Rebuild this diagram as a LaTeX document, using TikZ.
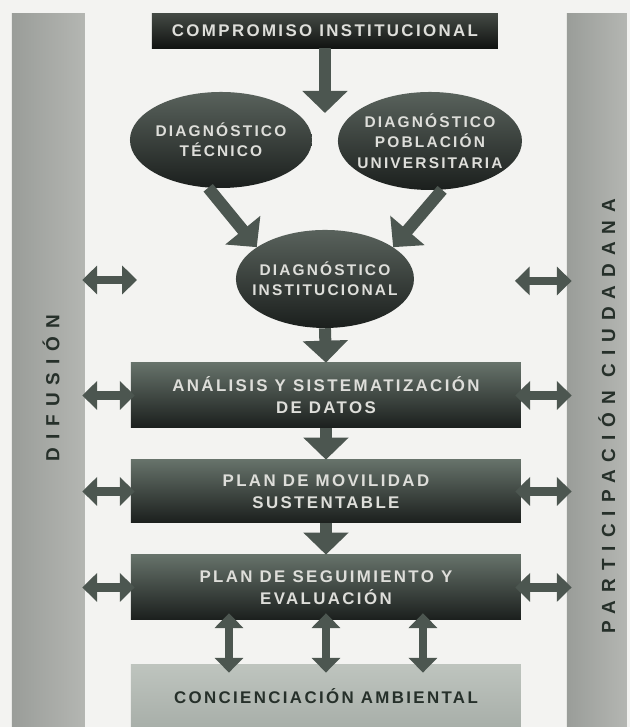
\documentclass[tikz,border=0pt]{standalone}
\usepackage{fontspec}
\usepackage{tikz}
\newfontfamily\boxfont[LetterSpace=14]{Liberation Sans}
\newfontfamily\barfont[LetterSpace=42]{Liberation Sans}
\usetikzlibrary{shapes.geometric, arrows.meta, calc}

\definecolor{paper}{HTML}{F3F3F1}
\definecolor{bargray}{HTML}{B4B6B2}
\definecolor{bardark}{HTML}{9A9D99}
\definecolor{boxtop}{HTML}{66726A}
\definecolor{boxbot}{HTML}{1B1F1D}
\definecolor{headtop}{HTML}{434944}
\definecolor{headbot}{HTML}{111311}
\definecolor{ovaltop}{HTML}{59625C}
\definecolor{arrowgray}{HTML}{4C5650}
\definecolor{lighttext}{HTML}{DEDEDA}
\definecolor{darktext}{HTML}{26302A}
\definecolor{conctop}{HTML}{BEC4BE}
\definecolor{concbot}{HTML}{A8AFA9}

\begin{document}
\begin{tikzpicture}[x=0.025cm, y=-0.025cm,
    darkbox/.style={rectangle, top color=boxtop, bottom color=boxbot, text=lighttext,
      font=\boxfont\bfseries\fontsize{12}{15.5}\selectfont, align=center, inner sep=0pt,
      minimum width=9.75cm},
    darkoval/.style={ellipse, top color=ovaltop, bottom color=boxbot, text=lighttext,
      font=\boxfont\bfseries\fontsize{11}{14.5}\selectfont, align=center,
      inner xsep=-3mm, inner ysep=-1mm},
    sidebar/.style={rectangle, left color=bardark, right color=bargray, inner sep=0pt},
    bartext/.style={rotate=90, text=darktext, font=\barfont\bfseries\fontsize{13.5}{13.5}\selectfont},
    bigarrow/.style={draw=arrowgray, line width=0.3cm, -{Triangle[width=1.1cm, length=0.55cm]}},
    dblarrow/.style={draw=arrowgray, line width=0.22cm,
      {Triangle[width=0.7cm, length=0.37cm]}-{Triangle[width=0.7cm, length=0.37cm]}},
  ]
    % Paper
    \fill[paper] (0,0) rectangle (630,727);

    % Side bars
    \node[sidebar, minimum width=1.825cm, minimum height=17.825cm] (difusion) at (48.5,370.5) {};
    \node[sidebar, minimum width=1.5cm, minimum height=17.825cm] (participacion) at (597,370.5) {};
    \node[bartext] (difusionlabel) at (51,388) {DIFUSIÓN};
    \node[bartext] (participacionlabel) at (607,416) {PARTICIPACIÓN CIUDADANA};

    % Top box
    \node[darkbox, top color=headtop, bottom color=headbot, minimum width=8.65cm, minimum height=0.85cm]
      (compromiso) at (325,31) {COMPROMISO INSTITUCIONAL};
    \coordinate (split) at (325,113);

    % Diagnostics
    \node[darkoval, minimum width=4.55cm, minimum height=2.4cm] (tecnico) at (221,140)
      {DIAGNÓSTICO\\TÉCNICO};
    \node[darkoval, minimum width=4.6cm, minimum height=2.45cm] (poblacion) at (430,141)
      {DIAGNÓSTICO\\POBLACIÓN\\UNIVERSITARIA};
    \node[darkoval, minimum width=4.45cm, minimum height=2.45cm] (institucional) at (325,279)
      {DIAGNÓSTICO\\INSTITUCIONAL};

    % Plans
    \node[darkbox, minimum height=1.625cm] (analisis) at (326,395.5)
      {ANÁLISIS Y SISTEMATIZACIÓN\\DE DATOS};
    \node[darkbox, minimum height=1.575cm] (movilidad) at (326,491.5)
      {PLAN DE MOVILIDAD\\SUSTENTABLE};
    \node[darkbox, minimum height=1.625cm] (seguimiento) at (326,587.5)
      {PLAN DE SEGUIMIENTO Y\\EVALUACIÓN};
    \node[darkbox, top color=conctop, bottom color=concbot, text=darktext, minimum height=1.55cm]
      (concienciacion) at (326,696) {CONCIENCIACIÓN AMBIENTAL};

    % Main flow
    \draw[bigarrow] (compromiso.south) -- (split);
    \draw[bigarrow] (tecnico.-105) -- (institucional.155);
    \draw[bigarrow] (poblacion.-76) -- (institucional.25);
    \draw[bigarrow] (institucional.south) -- (analisis.north);
    \draw[bigarrow] (analisis.south) -- (movilidad.north);
    \draw[bigarrow] (movilidad.south) -- (seguimiento.north);

    % Links to the side bars
    \coordinate (leftfree) at (137,280);
    \coordinate (rightfree) at (515,281);
    \draw[dblarrow] ($(difusion.east |- leftfree)+(-3,0)$) -- (leftfree);
    \draw[dblarrow] (rightfree) -- ($(participacion.west |- rightfree)+(5,0)$);
    \foreach \row in {analisis, movilidad, seguimiento} {
      \draw[dblarrow] ($(difusion.east |- \row.west)+(-3,0)$) -- ($(\row.west)+(4,0)$);
      \draw[dblarrow] ($(\row.east)+(-6,0)$) -- ($(participacion.west |- \row.east)+(5,0)$);
    }

    % Feedback with awareness
    \foreach \dx in {-97,0,97}
      \draw[dblarrow] ($(seguimiento.south)+(\dx,-7)$) -- ($(concienciacion.north)+(\dx,8)$);
\end{tikzpicture}
\end{document}
